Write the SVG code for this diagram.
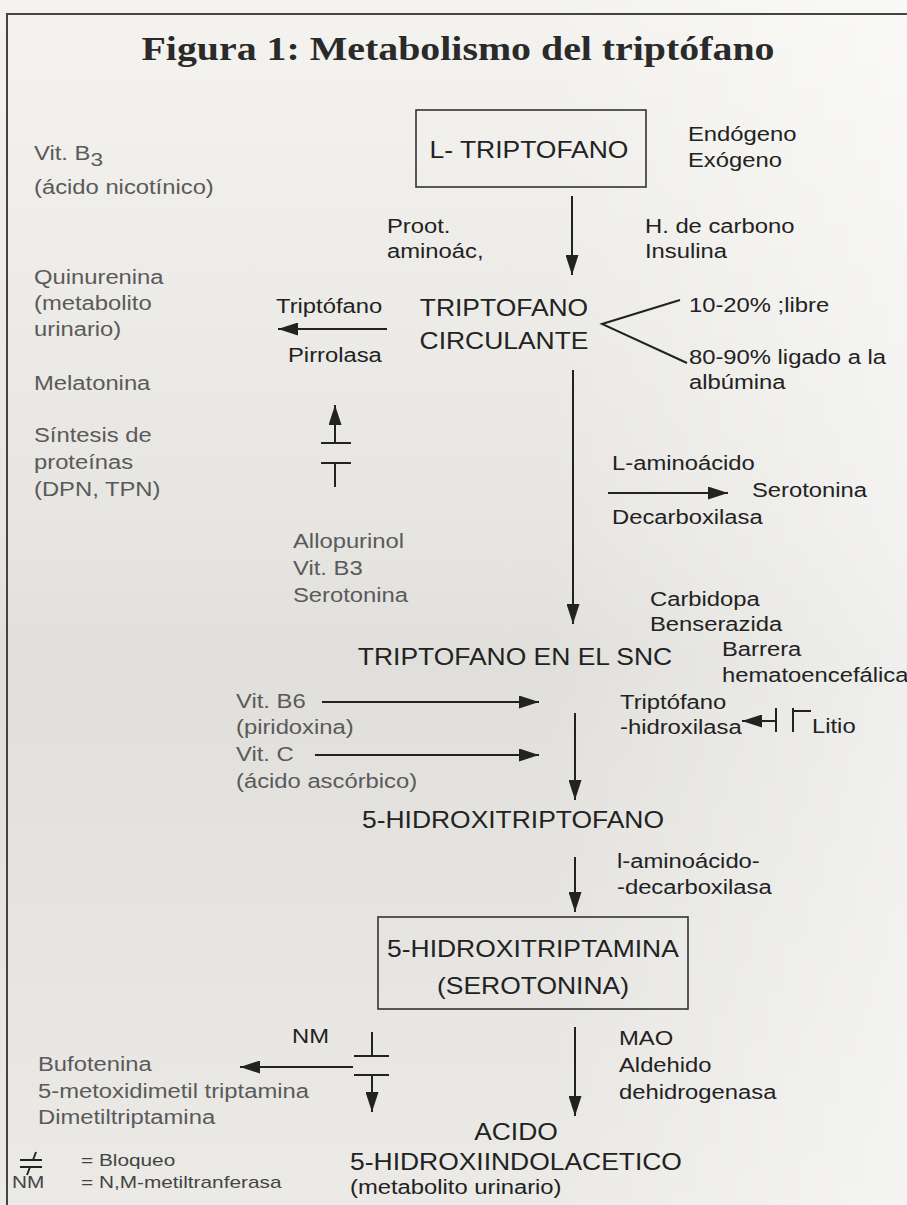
<svg xmlns="http://www.w3.org/2000/svg" width="907" height="1205" viewBox="0 0 907 1205">
<defs>
<linearGradient id="bg" x1="0" y1="0" x2="0" y2="1">
<stop offset="0" stop-color="#f4f3ef"/>
<stop offset="0.45" stop-color="#e6e5e1"/>
<stop offset="0.55" stop-color="#e0dfdb"/>
<stop offset="1" stop-color="#ebeae6"/>
</linearGradient>
<linearGradient id="bgr" x1="0" y1="0" x2="1" y2="0">
<stop offset="0.6" stop-color="#ffffff" stop-opacity="0"/>
<stop offset="1" stop-color="#ffffff" stop-opacity="0.5"/>
</linearGradient>
<marker id="ahb" viewBox="0 0 10 10" refX="10" refY="5" markerWidth="20" markerHeight="13" markerUnits="userSpaceOnUse" orient="auto" preserveAspectRatio="none">
<path d="M0,0 L10,5 L0,10 Z" fill="#222"/>
</marker>
</defs>
<style>
text{font-family:"Liberation Sans",Arial,sans-serif;fill:#222;transform-box:fill-box;transform-origin:left center}
.n{font-size:23px;transform:scaleX(1.15);transform-origin:center center}
.s{font-size:20px;transform:scaleX(1.19)}
.g{font-size:20px;fill:#5a5a5a;transform:scaleX(1.19)}
.l{font-size:16px;fill:#444;transform:scaleX(1.3)}
.t{font-family:"Liberation Serif","DejaVu Serif",serif;font-weight:bold;font-size:34px;fill:#2a2a2a}
.ln{stroke:#222;stroke-width:2;fill:none}
.ar{stroke:#222;stroke-width:2;fill:none;marker-end:url(#ahb)}
.box{fill:none;stroke:#333;stroke-width:1.6}
</style>
<rect x="0" y="0" width="907" height="1205" fill="url(#bg)"/>
<rect x="0" y="0" width="907" height="1205" fill="url(#bgr)"/>
<path d="M7,1205 V14 H907" stroke="#444" stroke-width="2" fill="none"/>

<text class="t" x="458" y="60" text-anchor="middle" textLength="633" lengthAdjust="spacingAndGlyphs">Figura 1: Metabolismo del triptófano</text>

<g id="connectors">
<line class="ar" x1="572" y1="196" x2="572" y2="275"/>
<line class="ar" x1="387" y1="329" x2="278" y2="329"/>
<path class="ln" d="M680,300 L602,324 L687,363"/>
<line class="ar" x1="573" y1="370" x2="573" y2="624"/>
<line class="ar" x1="608" y1="493" x2="728" y2="493"/>
<g id="block-pirrolasa">
<line class="ar" x1="335" y1="443" x2="335" y2="405"/>
<line class="ln" x1="321" y1="443" x2="351" y2="443"/>
<line class="ln" x1="321" y1="463" x2="351" y2="463"/>
<line class="ln" x1="335" y1="463" x2="335" y2="487"/>
</g>
<line class="ar" x1="322" y1="702" x2="539" y2="702"/>
<line class="ar" x1="315" y1="755" x2="539" y2="755"/>
<line class="ar" x1="575" y1="713" x2="575" y2="800"/>
<g id="block-litio">
<line class="ar" x1="776" y1="721" x2="742" y2="721"/>
<line class="ln" x1="776" y1="708" x2="776" y2="732"/>
<line class="ln" x1="793" y1="708" x2="793" y2="732"/>
<line class="ln" x1="793" y1="711" x2="811" y2="711"/>
</g>
<line class="ar" x1="575" y1="857" x2="575" y2="912"/>
<g id="block-nm">
<line class="ln" x1="372" y1="1032" x2="372" y2="1056"/>
<line class="ln" x1="354" y1="1056" x2="389" y2="1056"/>
<line class="ln" x1="354" y1="1075" x2="389" y2="1075"/>
<line class="ar" x1="372" y1="1075" x2="372" y2="1112"/>
<line class="ar" x1="353" y1="1067" x2="240" y2="1067"/>
</g>
<line class="ar" x1="575" y1="1027" x2="575" y2="1116"/>
</g>

<g id="n-ltriptofano">
<rect class="box" x="416" y="110" width="230" height="77"/>
<text class="n" x="529" y="158" text-anchor="middle">L- TRIPTOFANO</text>
</g>
<g id="n-origen">
<text class="s" x="688" y="141">Endógeno</text>
<text class="s" x="688" y="167">Exógeno</text>
</g>
<g id="n-vitb3">
<text class="g" x="34" y="160">Vit. B<tspan font-size="19" dy="6">3</tspan></text>
<text class="g" x="34" y="194">(ácido nicotínico)</text>
</g>
<g id="n-proot">
<text class="s" x="387" y="233">Proot.</text>
<text class="s" x="387" y="258">aminoác,</text>
</g>
<g id="n-hcarbono">
<text class="s" x="645" y="233">H. de carbono</text>
<text class="s" x="645" y="258">Insulina</text>
</g>
<g id="n-quinurenina">
<text class="g" x="34" y="284">Quinurenina</text>
<text class="g" x="34" y="310">(metabolito</text>
<text class="g" x="34" y="336">urinario)</text>
</g>
<g id="n-pirrolasa">
<text class="s" x="276" y="313">Triptófano</text>
<text class="s" x="288" y="362">Pirrolasa</text>
</g>
<g id="n-circulante">
<text class="n" x="504" y="316" text-anchor="middle">TRIPTOFANO</text>
<text class="n" x="504" y="349" text-anchor="middle">CIRCULANTE</text>
</g>
<g id="n-fracciones">
<text class="s" x="689" y="312">10-20% ;libre</text>
<text class="s" x="689" y="364">80-90% ligado a la</text>
<text class="s" x="689" y="389">albúmina</text>
</g>
<g id="n-melatonina">
<text class="g" x="34" y="390">Melatonina</text>
</g>
<g id="n-sintesis">
<text class="g" x="34" y="442">Síntesis de</text>
<text class="g" x="34" y="469">proteínas</text>
<text class="g" x="34" y="496">(DPN, TPN)</text>
</g>
<g id="n-decarboxilasa">
<text class="s" x="612" y="470">L-aminoácido</text>
<text class="s" x="752" y="497">Serotonina</text>
<text class="s" x="612" y="524">Decarboxilasa</text>
</g>
<g id="n-allopurinol">
<text class="g" x="293" y="548">Allopurinol</text>
<text class="g" x="293" y="575">Vit. B3</text>
<text class="g" x="293" y="602">Serotonina</text>
</g>
<g id="n-carbidopa">
<text class="s" x="650" y="606">Carbidopa</text>
<text class="s" x="650" y="631">Benserazida</text>
</g>
<g id="n-snc">
<text class="n" x="515" y="665" text-anchor="middle">TRIPTOFANO EN EL SNC</text>
</g>
<g id="n-barrera">
<text class="s" x="722" y="656">Barrera</text>
<text class="s" x="722" y="682">hematoencefálica</text>
</g>
<g id="n-vitb6">
<text class="g" x="236" y="708">Vit. B6</text>
<text class="g" x="236" y="734">(piridoxina)</text>
</g>
<g id="n-vitc">
<text class="g" x="236" y="761">Vit. C</text>
<text class="g" x="236" y="788">(ácido ascórbico)</text>
</g>
<g id="n-hidroxilasa">
<text class="s" x="620" y="709">Triptófano</text>
<text class="s" x="620" y="734">-hidroxilasa</text>
</g>
<g id="n-litio">
<text class="s" x="812" y="733">Litio</text>
</g>
<g id="n-5htp">
<text class="n" x="513" y="828" text-anchor="middle">5-HIDROXITRIPTOFANO</text>
</g>
<g id="n-laminoacido">
<text class="s" x="617" y="868">l-aminoácido-</text>
<text class="s" x="617" y="894">-decarboxilasa</text>
</g>
<g id="n-serotonina">
<rect class="box" x="378" y="917" width="310" height="92"/>
<text class="n" x="533" y="957" text-anchor="middle">5-HIDROXITRIPTAMINA</text>
<text class="n" x="533" y="994" text-anchor="middle">(SEROTONINA)</text>
</g>
<g id="n-nm">
<text class="s" x="292" y="1043">NM</text>
</g>
<g id="n-bufotenina">
<text class="g" x="38" y="1071">Bufotenina</text>
<text class="g" x="38" y="1098">5-metoxidimetil triptamina</text>
<text class="g" x="38" y="1124">Dimetiltriptamina</text>
</g>
<g id="n-mao">
<text class="s" x="619" y="1045">MAO</text>
<text class="s" x="619" y="1072">Aldehido</text>
<text class="s" x="619" y="1099">dehidrogenasa</text>
</g>
<g id="n-5hiaa">
<text class="n" x="516" y="1140" text-anchor="middle">ACIDO</text>
<text class="n" x="516" y="1170" text-anchor="middle">5-HIDROXIINDOLACETICO</text>
<text class="s" x="350" y="1194">(metabolito urinario)</text>
</g>
<g id="legend">
<line class="ln" x1="20" y1="1160" x2="42" y2="1160" stroke-width="1.6"/>
<line class="ln" x1="20" y1="1167" x2="42" y2="1167" stroke-width="1.6"/>
<line class="ln" x1="36" y1="1152" x2="33" y2="1160" stroke-width="1.6"/>
<line class="ln" x1="30" y1="1167" x2="27" y2="1175" stroke-width="1.6"/>
<text class="l" x="81" y="1166">= Bloqueo</text>
<text class="l" x="12" y="1188">NM</text>
<text class="l" x="81" y="1188">= N,M-metiltranferasa</text>
</g>
</svg>
